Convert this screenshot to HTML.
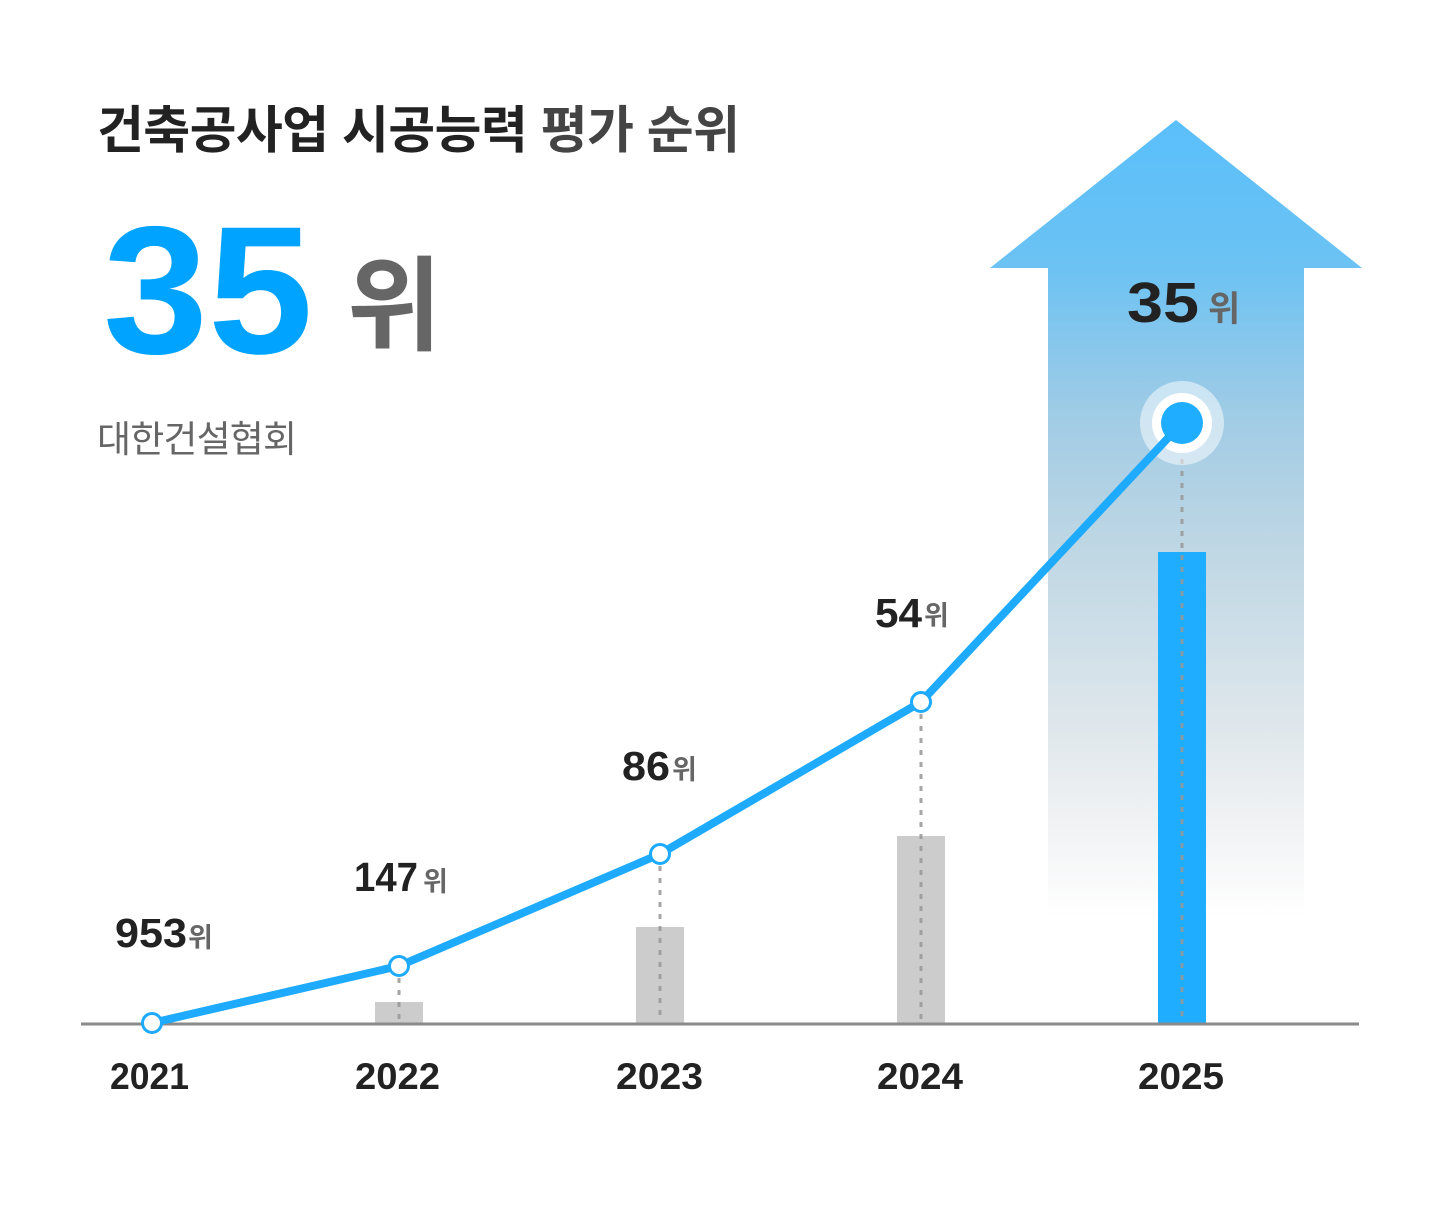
<!DOCTYPE html>
<html>
<head>
<meta charset="utf-8">
<style>
html,body{margin:0;padding:0;background:#fff;}
svg{display:block;}
text{font-family:"Liberation Sans","Noto Sans CJK KR",sans-serif;}
</style>
</head>
<body>
<svg width="1440" height="1218" viewBox="0 0 1440 1218" xmlns="http://www.w3.org/2000/svg">
<defs>
<linearGradient id="ag" x1="0" y1="120" x2="0" y2="918" gradientUnits="userSpaceOnUse">
<stop offset="0" stop-color="#5abffb"/>
<stop offset="0.185" stop-color="#6cc2f3"/>
<stop offset="0.378" stop-color="#a2cce5"/>
<stop offset="0.538" stop-color="#bfd7e4"/>
<stop offset="0.65" stop-color="#cfdfe8"/>
<stop offset="0.775" stop-color="#e1e8ec"/>
<stop offset="0.9" stop-color="#f3f4f5"/>
<stop offset="1" stop-color="#ffffff"/>
</linearGradient>
</defs>
<rect width="1440" height="1218" fill="#fff"/>

<!-- Title -->
<text x="97" y="148" font-size="51" font-weight="bold" textLength="643" lengthAdjust="spacing"><tspan fill="#222">건축공사업 시공능력 </tspan><tspan fill="#444">평가 순위</tspan></text>

<!-- Big 35 위 -->
<text x="103" y="353" font-size="182" font-weight="bold" fill="#00a3ff" textLength="210" lengthAdjust="spacingAndGlyphs">35</text>
<text x="347" y="342" font-size="103" font-weight="bold" fill="#666">위</text>

<text x="97" y="452" font-size="37" fill="#666" textLength="200" lengthAdjust="spacing">대한건설협회</text>

<!-- Arrow -->
<polygon points="1176,120 1362,268 1304,268 1304,918 1048,918 1048,268 990,268" fill="url(#ag)"/>

<!-- Bars -->
<rect x="375" y="1002" width="48" height="22" fill="#cccccc"/>
<rect x="636" y="927" width="48" height="97" fill="#cccccc"/>
<rect x="897" y="836" width="48" height="188" fill="#cccccc"/>
<rect x="1158" y="552" width="48" height="472" fill="#1eadff"/>

<!-- Dotted lines -->
<g stroke="rgba(150,150,150,0.85)" stroke-width="3" stroke-dasharray="5 7">
<line x1="399" y1="978" x2="399" y2="1022"/>
<line x1="660" y1="866" x2="660" y2="1022"/>
<line x1="921" y1="714" x2="921" y2="1022"/>
<line x1="1182" y1="447" x2="1182" y2="1022"/>
</g>

<!-- Axis -->
<line x1="81" y1="1024" x2="1359" y2="1024" stroke="#8a8a8a" stroke-width="3"/>

<!-- Halo -->
<circle cx="1182" cy="423" r="42" fill="rgba(255,255,255,0.5)"/>
<circle cx="1182" cy="423" r="30" fill="#fff"/>

<!-- Line -->
<polyline points="152,1023 399,966 660,854 921,702 1182,423" fill="none" stroke="#1eabff" stroke-width="8" stroke-linejoin="round" stroke-linecap="round"/>

<!-- Markers -->
<g fill="#fff" stroke="#1eabff" stroke-width="3">
<circle cx="152" cy="1023" r="9.5"/>
<circle cx="399" cy="966" r="9.5"/>
<circle cx="660" cy="854" r="9.5"/>
<circle cx="921" cy="702" r="9.5"/>
</g>
<circle cx="1182" cy="423" r="21" fill="#1eadff"/>

<!-- Value labels -->
<g font-weight="bold" fill="#222" font-size="41">
<text x="115" y="947" textLength="72" lengthAdjust="spacingAndGlyphs">953</text>
<text x="354" y="891" textLength="64" lengthAdjust="spacingAndGlyphs">147</text>
<text x="622" y="780" textLength="48" lengthAdjust="spacingAndGlyphs">86</text>
<text x="875" y="627" textLength="47" lengthAdjust="spacingAndGlyphs">54</text>
</g>
<g fill="#666" font-size="27" font-weight="bold">
<text x="188" y="947">위</text>
<text x="423" y="891">위</text>
<text x="672" y="779">위</text>
<text x="924" y="625">위</text>
</g>

<text x="1127" y="322" font-size="57" font-weight="bold" fill="#222" textLength="72" lengthAdjust="spacingAndGlyphs">35</text>
<text x="1208" y="321" font-size="35" font-weight="bold" fill="#666">위</text>

<!-- Year labels -->
<g font-weight="bold" fill="#222" font-size="37">
<text x="110" y="1089" textLength="79" lengthAdjust="spacingAndGlyphs">2021</text>
<text x="355" y="1089" textLength="85" lengthAdjust="spacingAndGlyphs">2022</text>
<text x="616" y="1089" textLength="87" lengthAdjust="spacingAndGlyphs">2023</text>
<text x="877" y="1089" textLength="86" lengthAdjust="spacingAndGlyphs">2024</text>
<text x="1138" y="1089" textLength="86" lengthAdjust="spacingAndGlyphs">2025</text>
</g>
</svg>
</body>
</html>
